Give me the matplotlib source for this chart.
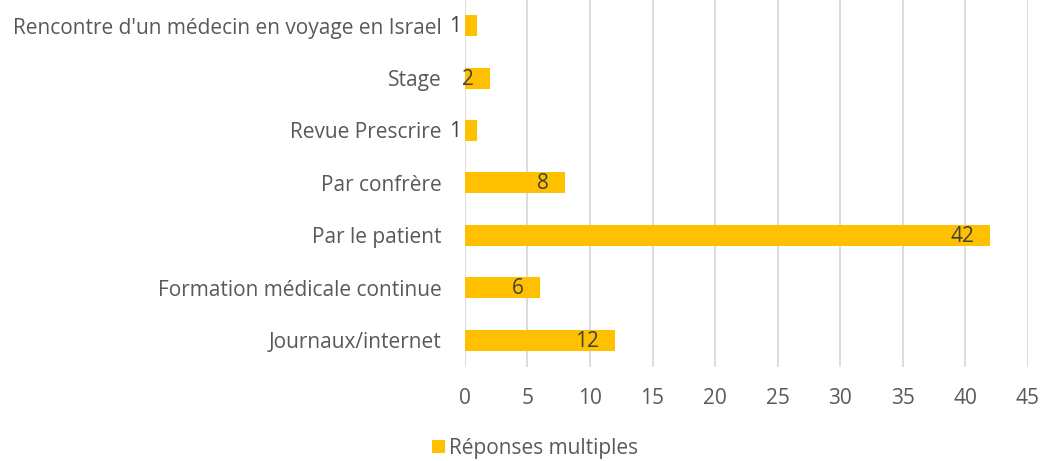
import matplotlib.pyplot as plt

# Données
categories = ["Journaux/internet", "Formation médicale continue", "Par le patient",
              "Par confrère", "Revue Prescrire", "Stage",
              "Rencontre d'un médecin en voyage en Israel"]
valeurs = [12, 6, 42, 8, 1, 2, 1]
xticks = [0, 5, 10, 15, 20, 25, 30, 35, 40, 45]
serie = "Réponses multiples"

plt.rcParams['font.family'] = ['Open Sans', 'DejaVu Sans']

fig = plt.figure(figsize=(10.43, 4.61), dpi=100)
ax = fig.add_axes([0.4458, 0.2045, 0.5395, 0.7971])

y = range(len(categories))
bars = ax.barh(y, valeurs, height=0.4, color='#FFC000', label=serie, zorder=2)

for b, v in zip(bars, valeurs):
    ax.annotate(str(v), (b.get_width(), b.get_y() + b.get_height() / 2),
                xytext=(-16, -1), textcoords='offset pixels',
                ha='right', va='center', fontsize=15, color='#404040', zorder=3)

ax.set_xlim(0, 45)
ax.set_ylim(-0.5, 6.5)
ax.set_xticks(xticks)
ax.set_yticks(list(y))
ax.set_yticklabels(categories)
ax.tick_params(axis='both', length=0, labelsize=15, labelcolor='#595959')
ax.tick_params(axis='x', pad=15)
ax.tick_params(axis='y', pad=17)
ax.grid(axis='x', color='#d9d9d9', linewidth=1.3, zorder=0)
for s in ax.spines.values():
    s.set_visible(False)

fig.legend(loc='lower center', bbox_to_anchor=(0.513, -0.036), frameon=False,
           fontsize=15, labelcolor='#595959', handlelength=0.65, handleheight=0.65,
           handletextpad=0.2)

fig.savefig('out.png', dpi=100)
